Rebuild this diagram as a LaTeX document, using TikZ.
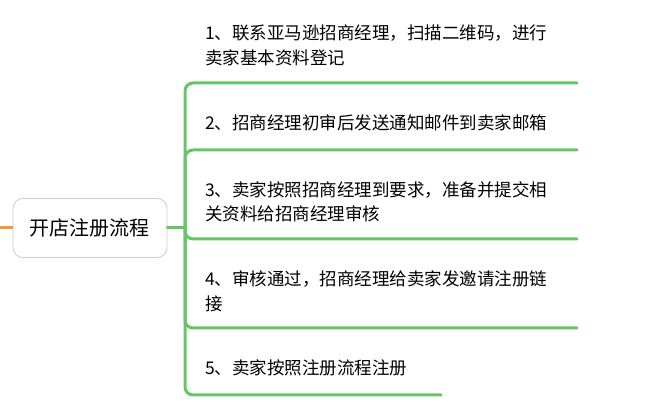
\documentclass[tikz,border=0pt]{standalone}
\usepackage{fontspec}
\setmainfont{Noto Sans CJK SC}
\definecolor{mapgreen}{RGB}{104,196,104}
\definecolor{maporange}{RGB}{242,152,60}
\definecolor{boxgray}{RGB}{204,204,204}

\begin{document}
\begin{tikzpicture}[x=1pt,y=1pt,
    topic/.style={draw=boxgray, line width=0.8pt, rounded corners=10pt, minimum width=154pt, minimum height=59pt, font=\fontsize{20}{24}\selectfont},
    item/.style={anchor=west, inner sep=0pt, align=left, font=\fontsize{17.5}{24.5}\selectfont},
    branch/.style={draw=mapgreen, line width=3pt, line cap=round, rounded corners=8pt}]
    \useasboundingbox (0,0) rectangle (670,418);
    \node[topic] (root) at (90,190) {开店注册流程};
    \coordinate (trunk) at (185,190);
    \coordinate (tail) at (0,190);
    \draw[maporange, line width=3pt] (tail) -- (root.west);
    \draw[branch] (root.east) -- (trunk);
    \node[item] (t1) at (205,372.5) {1、联系亚马逊招商经理，扫描二维码，进行\\卖家基本资料登记};
    \node[item] (t2) at (205,295) {2、招商经理初审后发送通知邮件到卖家邮箱};
    \node[item] (t3) at (205,216) {3、卖家按照招商经理到要求，准备并提交相\\关资料给招商经理审核};
    \node[item] (t4) at (205,126.5) {4、审核通过，招商经理给卖家发邀请注册链\\接};
    \node[item] (t5) at (205,50) {5、卖家按照注册流程注册};
    \coordinate (e1) at (577,335);
    \coordinate (e2) at (577,268);
    \coordinate (e3) at (577,179);
    \coordinate (e4) at (577,90);
    \coordinate (e5) at (441,23);
    \draw[branch] (trunk) |- (e1);
    \draw[branch] (trunk) |- (e2);
    \draw[branch] (trunk) |- (e3);
    \draw[branch] (trunk) |- (e4);
    \draw[branch] (trunk) |- (e5);
\end{tikzpicture}
\end{document}
